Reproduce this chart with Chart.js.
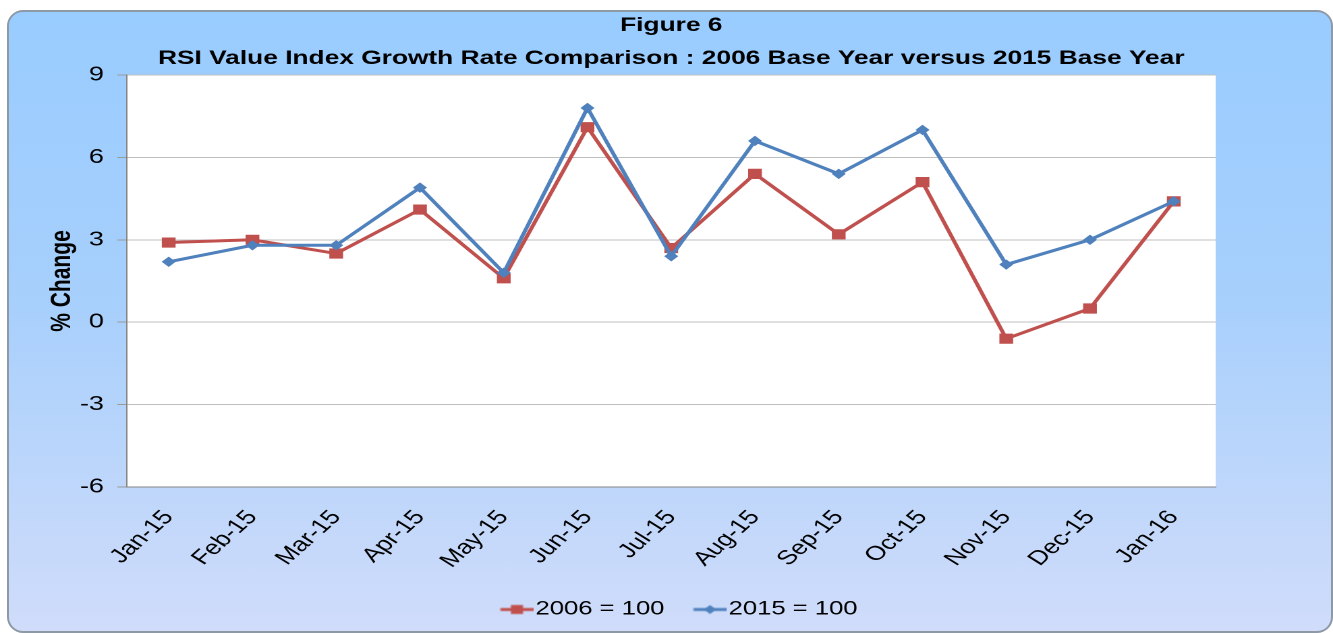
<!DOCTYPE html>
<html>
<head>
<meta charset="utf-8">
<script src="https://cdn.jsdelivr.net/npm/chart.js@4.4.1/dist/chart.umd.min.js"></script>
<style>
    html, body { margin: 0; padding: 0; background: #fff; width: 1333px; height: 633px; overflow: hidden; }
    #fundo {
        position: absolute; left: 7px; top: 10px; width: 1326px; height: 623px;
        box-sizing: border-box; border: 2px solid #8e99a6; border-radius: 16px;
        background: linear-gradient(#99ccff 0%, #a6cffc 45%, #d0dcfa 100%);
    }
    #grafico { position: absolute; left: 0; top: 0; transform-origin: 0 0; transform: scaleX(1.3492); }
</style>
</head>
<body>
<div id="fundo"></div>
<canvas id="grafico" width="988" height="633"></canvas>
<script>
// dados (% de variacao)
var meses = ['Jan-15', 'Feb-15', 'Mar-15', 'Apr-15', 'May-15', 'Jun-15', 'Jul-15',
    'Aug-15', 'Sep-15', 'Oct-15', 'Nov-15', 'Dec-15', 'Jan-16'];
var base2006 = [2.9, 3.0, 2.5, 4.1, 1.6, 7.1, 2.7, 5.4, 3.2, 5.1, -0.6, 0.5, 4.4];
var base2015 = [2.2, 2.8, 2.8, 4.9, 1.8, 7.8, 2.4, 6.6, 5.4, 7.0, 2.1, 3.0, 4.4];
var ticksY = [-6, -3, 0, 3, 6, 9];

var corVermelha = '#c0504d';
var corAzul = '#4f81bd';
var fonte = "'Liberation Sans', Arial, sans-serif";

// icone da legenda: linha curta com o marcador no meio, encostada a direita
function iconeLegenda(cor, estilo) {
    var c = document.createElement('canvas');
    c.width = 44; c.height = 14;
    var ctx = c.getContext('2d');
    var ini = 19.5, fim = 44, meio = (ini + fim) / 2;
    ctx.strokeStyle = cor; ctx.lineWidth = 3;
    ctx.beginPath(); ctx.moveTo(ini, 7); ctx.lineTo(fim, 7); ctx.stroke();
    ctx.fillStyle = cor;
    if (estilo === 'rect') {
        ctx.fillRect(meio - 4.5, 2.5, 9, 9);
    } else {
        ctx.beginPath();
        ctx.moveTo(meio, 2.5); ctx.lineTo(meio + 4.5, 7); ctx.lineTo(meio, 11.5); ctx.lineTo(meio - 4.5, 7);
        ctx.closePath(); ctx.fill();
    }
    return c;
}
var icones = [iconeLegenda(corVermelha, 'rect'), iconeLegenda(corAzul, 'diamond')];

var fundoBranco = {
    id: 'fundoBranco',
    beforeDraw: function (chart) {
        var a = chart.chartArea;
        chart.ctx.save();
        chart.ctx.fillStyle = '#ffffff';
        chart.ctx.fillRect(a.left, a.top, a.right - a.left, a.bottom - a.top);
        chart.ctx.restore();
    }
};

new Chart(document.getElementById('grafico'), {
    type: 'line',
    data: {
        labels: meses,
        datasets: [{
            label: '2006 = 100', data: base2006, order: 2,
            borderColor: corVermelha, backgroundColor: corVermelha, borderWidth: 3,
            pointStyle: 'rect', pointRadius: 6.5, pointBorderWidth: 1, tension: 0
        }, {
            label: '2015 = 100', data: base2015, order: 1,
            borderColor: corAzul, backgroundColor: corAzul, borderWidth: 3,
            pointStyle: 'rectRot', pointRadius: 4.5, pointBorderWidth: 1, tension: 0
        }]
    },
    options: {
        responsive: false,
        animation: false,
        devicePixelRatio: 2,
        layout: { padding: { left: 34, right: 87, top: 0, bottom: 4 } },
        plugins: {
            title: {
                display: true,
                fullSize: false,
                text: ['Figure 6', 'RSI Value Index Growth Rate Comparison : 2006 Base Year versus 2015 Base Year'],
                color: '#000',
                font: { family: fonte, size: 19.5, weight: 'bold', lineHeight: '33px' },
                padding: { top: 9, bottom: 0 }
            },
            legend: {
                position: 'bottom',
                fullSize: false,
                labels: {
                    usePointStyle: true, pointStyleWidth: 28, padding: 10,
                    color: '#000', font: { family: fonte, size: 19 },
                    generateLabels: function (chart) {
                        var itens = Chart.defaults.plugins.legend.labels.generateLabels(chart);
                        itens.forEach(function (item) { item.pointStyle = icones[item.datasetIndex]; });
                        return itens.sort(function (a, b) { return a.datasetIndex - b.datasetIndex; });
                    }
                }
            },
            tooltip: { enabled: false }
        },
        scales: {
            x: {
                offset: true,
                grid: { display: false, drawTicks: false },
                border: { display: true, color: '#868686', width: 1 },
                ticks: {
                    color: '#000', font: { family: fonte, size: 20 },
                    minRotation: 50, maxRotation: 50, autoSkip: false, padding: 19
                },
                afterFit: function (s) { s.height = 103; }
            },
            y: {
                min: -6, max: 9,
                afterBuildTicks: function (s) { s.ticks = ticksY.map(function (v) { return { value: v }; }); },
                grid: { color: '#bfbfbf', tickLength: 7, tickColor: '#9a9a9a' },
                border: { color: '#868686', width: 1 },
                ticks: { color: '#000', font: { family: fonte, size: 20 }, padding: 10 },
                title: {
                    display: true, text: '% Change', color: '#000', padding: 0,
                    font: { family: fonte, size: 21, weight: 'bold', lineHeight: 1.15 }
                },
                afterFit: function (s) { s.width = 60; }
            }
        }
    },
    plugins: [fundoBranco]
});
</script>
</body>
</html>
